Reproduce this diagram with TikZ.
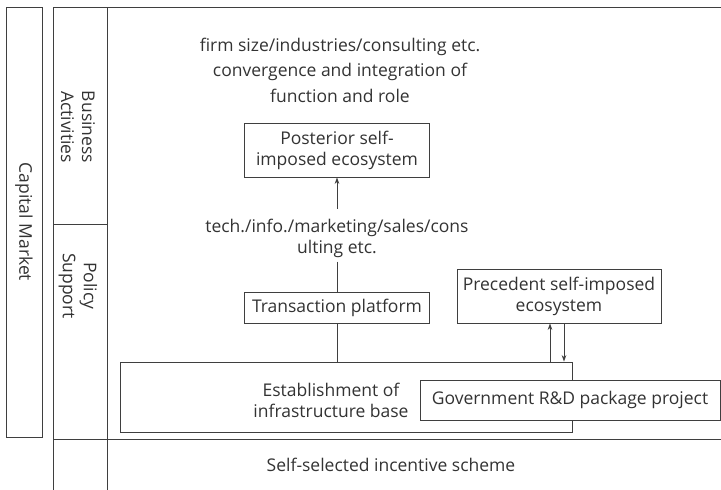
\documentclass[tikz,border=0pt]{standalone}
\usepackage{fontspec}
\setmainfont{Open Sans}
\usepackage{tikz}
\usetikzlibrary{arrows.meta,positioning,calc}
\definecolor{ink}{HTML}{333333}
\definecolor{rule}{HTML}{3F3F3F}
\tikzset{
  >={Stealth[length=6.5pt,width=4.6pt]},
  % rutor och text
  bx/.style={draw=rule,line width=0.9pt,fill=white,inner sep=0pt,align=center,text=ink},
  tx/.style={inner sep=0pt,align=center,text=ink},
  vt/.style={tx,rotate=-90},
  % linjer
  fr/.style={draw=rule,line width=0.9pt},
  ar/.style={->,draw=rule,line width=0.8pt},
}

\begin{document}
\begin{tikzpicture}[x=1pt,y=-1pt,every node/.append style={font=\fontsize{17.5}{21}\selectfont}]
  \useasboundingbox (0,0) rectangle (721,490);
  % ramverk
  \node[bx,vt,minimum width=430,minimum height=36] (cap) at (24,222) {Capital Market};
  \draw[fr] (721,7) -- (53,7) -- (53,490);
  \draw[fr] (107,7) -- (107,490);
  \draw[fr] (53,224) -- (107,224);
  \draw[fr] (53,439) -- (721,439);
  \node[vt] (biz) at (78,127) {Business\\Activities};
  \node[vt] (pol) at (78,286) {Policy\\Support};
  % innehåll
  \node[tx,font=\fontsize{17.5}{25.5}\selectfont] (conv) at (340,70)
    {firm size/industries/consulting etc.\\convergence and integration of\\function and role};
  \node[bx,minimum width=185,minimum height=54] (post) at (337,150) {Posterior self-\\imposed ecosystem};
  \node[tx] (tech) at (337,238) {tech./info./marketing/sales/cons\\ulting etc.};
  \node[bx,minimum width=185,minimum height=31] (trans) at (337,307.5) {Transaction platform};
  \node[bx,minimum width=204,minimum height=54] (prec) at (559,296) {Precedent self-imposed\\ecosystem};
  \node[bx,minimum width=452,minimum height=70] (infra) at (346,397) {};
  \node[tx] (infratx) at (331,400) {Establishment of\\infrastructure base};
  \node[bx,minimum width=300,minimum height=40] (gov) at (570,400) {Government R\&D package project};
  \node[tx] (self) at (391,465) {Self-selected incentive scheme};
  % pilar
  \draw[ar] ([yshift=10pt]tech.north) -- (post.south);
  \draw[fr] ([yshift=-4pt]tech.south) -- (trans.north);
  \draw[fr] (trans.south) -- (trans.south |- infra.north);
  \draw[ar] ([xshift=-9pt]prec.south |- infra.north) -- ([xshift=-9pt]prec.south);
  \draw[ar] ([xshift=5pt]prec.south) -- ([xshift=5pt]prec.south |- infra.north);
\end{tikzpicture}
\end{document}
